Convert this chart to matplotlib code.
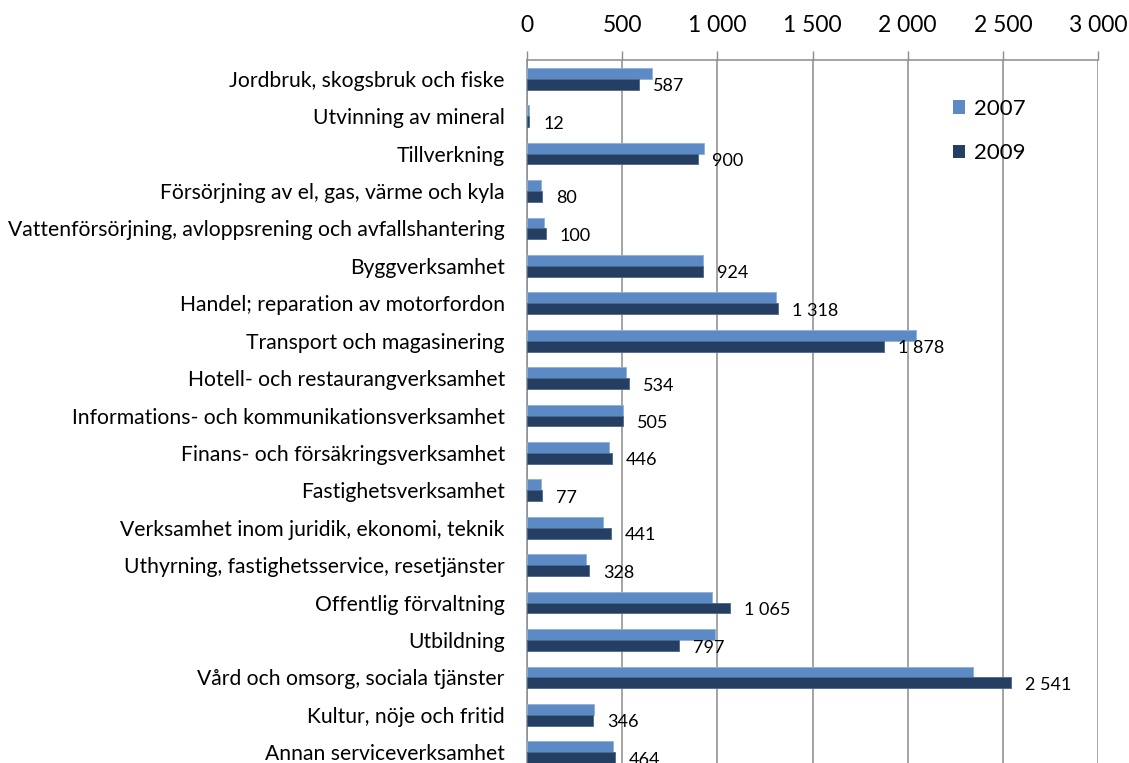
import matplotlib.pyplot as plt
import numpy as np
from matplotlib.patches import Patch
from matplotlib.ticker import FuncFormatter

categories = [
    "Jordbruk, skogsbruk och fiske",
    "Utvinning av mineral",
    "Tillverkning",
    "Försörjning av el, gas, värme och kyla",
    "Vattenförsörjning, avloppsrening och avfallshantering",
    "Byggverksamhet",
    "Handel; reparation av motorfordon",
    "Transport och magasinering",
    "Hotell- och restaurangverksamhet",
    "Informations- och kommunikationsverksamhet",
    "Finans- och försäkringsverksamhet",
    "Fastighetsverksamhet",
    "Verksamhet inom juridik, ekonomi, teknik",
    "Uthyrning, fastighetsservice, resetjänster",
    "Offentlig förvaltning",
    "Utbildning",
    "Vård och omsorg, sociala tjänster",
    "Kultur, nöje och fritid",
    "Annan serviceverksamhet",
]
values_2007 = [657, 10, 928, 75, 88, 925, 1308, 2045, 520, 502, 430, 76,
               400, 308, 973, 988, 2345, 350, 451]
values_2009 = [587, 12, 900, 80, 100, 924, 1318, 1878, 534, 505, 446, 77,
               441, 328, 1065, 797, 2541, 346, 464]

color_2007 = "#5B8AC5"
color_2009 = "#243F62"
grid_color = "#8C8C8C"


def space_fmt(x, pos=None):
    return f"{int(round(x)):,}".replace(",", " ")


plt.rcParams["font.family"] = ["Lato", "DejaVu Sans"]

fig = plt.figure(figsize=(11.29, 7.63), dpi=100)
# axes bottom sits slightly below the figure edge (chart is cut off)
ax = fig.add_axes([527 / 1129, -8 / 763, 571 / 1129, 711 / 763])

y = np.arange(len(categories))
h = 0.29

ax.barh(y - h / 2, values_2007, height=h, color=color_2007,
        edgecolor="#8FB0DA", linewidth=0.6, zorder=3, label="2007")
ax.barh(y + h / 2, values_2009, height=h, color=color_2009,
        edgecolor="#4A6790", linewidth=0.6, zorder=3, label="2009")

for yi, v in zip(y, values_2009):
    ax.annotate(space_fmt(v), xy=(v, yi + h / 2), xytext=(10, -1.5),
                textcoords="offset points", va="center", ha="left",
                fontsize=13, color="black")

ax.set_xlim(0, 3000)
ax.set_ylim(len(categories) - 0.5, -0.5)
ax.set_xticks(np.arange(0, 3001, 500))
ax.xaxis.set_major_formatter(FuncFormatter(space_fmt))
ax.xaxis.tick_top()
ax.tick_params(axis="x", direction="out", length=6.5, width=1,
               color=grid_color, labelsize=16.5, pad=11)
ax.set_yticks(y)
ax.set_yticklabels(categories)
ax.tick_params(axis="y", length=0, labelsize=15.2, pad=16)

ax.grid(axis="x", color=grid_color, linewidth=1.1, zorder=0)
for side in ["right", "bottom"]:
    ax.spines[side].set_visible(False)
for side in ["top", "left"]:
    ax.spines[side].set_color(grid_color)
    ax.spines[side].set_linewidth(1.1)

handles = [Patch(facecolor=color_2007, label="2007"),
           Patch(facecolor=color_2009, label="2009")]
fig.legend(handles=handles, loc="upper left",
           bbox_to_anchor=(953 / 1129, 1 - 99 / 763), frameon=False,
           fontsize=16, handlelength=0.55, handleheight=0.55,
           handletextpad=0.4, labelspacing=1.1, borderpad=0,
           borderaxespad=0)

fig.savefig("out.png", dpi=100)
plt.close(fig)
